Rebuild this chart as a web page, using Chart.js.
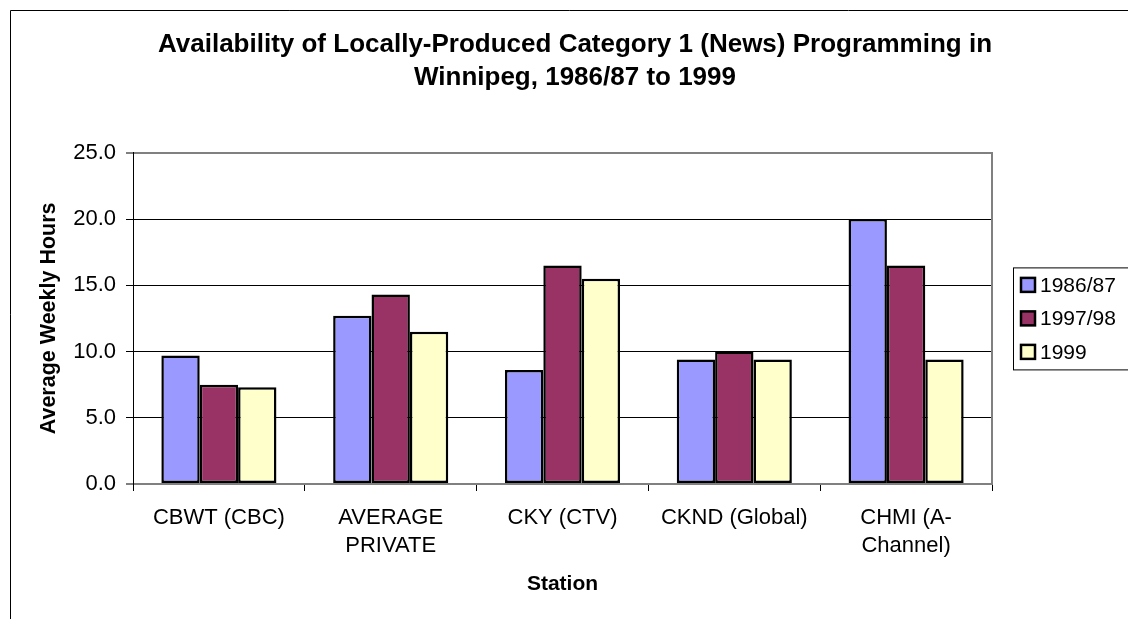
<!DOCTYPE html>
<html>
<head>
<meta charset="utf-8">
<script src="https://cdn.jsdelivr.net/npm/chart.js@4.4.1/dist/chart.umd.min.js"></script>
<style>
  body { margin: 0; background: #fff; }
  #wrap { width: 1128px; height: 619px; }
</style>
</head>
<body>
<div id="wrap"><canvas id="newsChart" width="1128" height="619"></canvas></div>
<script>
// Stations along the x axis (multi-line labels as in the original)
const stations = [
    ['CBWT (CBC)'],
    ['AVERAGE', 'PRIVATE'],
    ['CKY (CTV)'],
    ['CKND (Global)'],
    ['CHMI (A-', 'Channel)']
];

// Average weekly hours per season
const seasons = ['1986/87', '1997/98', '1999'];
const hours8687 = [9.7, 12.7, 8.6, 9.4, 20.0];
const hours9798 = [7.5, 14.3, 16.5, 10.0, 16.5];
const hours1999 = [7.3, 11.5, 15.5, 9.4, 9.4];

const seasonColors = ['#9999FF', '#993366', '#FFFFCC'];
const FONT = 'Liberation Sans, Arial, sans-serif';

// outer frame of the chart object (it runs off the right and bottom edge)
const framePlugin = {
    id: 'frame',
    beforeDraw(chart) {
        const ctx = chart.ctx;
        ctx.save();
        ctx.fillStyle = '#fff';
        ctx.fillRect(0, 0, chart.width, chart.height);
        ctx.strokeStyle = '#000';
        ctx.lineWidth = 1;
        ctx.beginPath();
        ctx.moveTo(10.5, chart.height);
        ctx.lineTo(10.5, 10.5);
        ctx.lineTo(chart.width, 10.5);
        ctx.stroke();
        ctx.restore();
    }
};

// boxed legend to the right of the plot, built from the datasets
const boxLegend = {
    id: 'boxLegend',
    afterDraw(chart) {
        const ctx = chart.ctx;
        const area = chart.chartArea;
        const sets = chart.data.datasets;
        const rowH = 33.5;
        const left = area.right + 21;
        const midY = (area.top + area.bottom) / 2;
        const top = midY - 51;
        ctx.save();
        ctx.strokeStyle = '#000';
        ctx.lineWidth = 1;
        ctx.strokeRect(left + 0.5, top + 0.5, 140, 102);
        ctx.font = '21px ' + FONT;
        ctx.textBaseline = 'middle';
        ctx.textAlign = 'left';
        sets.forEach((ds, i) => {
            const y = midY + (i - 1) * rowH;
            ctx.fillStyle = ds.backgroundColor;
            ctx.fillRect(left + 8, y - 7, 14, 14);
            ctx.lineWidth = 2.5;
            ctx.strokeRect(left + 8, y - 7, 14, 14);
            ctx.fillStyle = '#000';
            ctx.fillText(ds.label, left + 27, y + 1);
        });
        ctx.restore();
    }
};

const ctx = document.getElementById('newsChart').getContext('2d');
new Chart(ctx, {
    type: 'bar',
    data: {
        labels: stations,
        datasets: [hours8687, hours9798, hours1999].map((vals, i) => ({
            label: seasons[i],
            data: vals,
            backgroundColor: seasonColors[i],
            borderColor: '#000',
            borderWidth: 2.5,
            borderSkipped: false,
            categoryPercentage: 0.67,
            barPercentage: 1.0
        }))
    },
    options: {
        responsive: false,
        animation: false,
        layout: { padding: { top: 10, left: 22, right: 0, bottom: 0 } },
        plugins: {
            legend: { display: false },
            tooltip: { enabled: false },
            title: {
                display: true,
                text: ['Availability of Locally-Produced Category 1 (News) Programming in',
                       'Winnipeg, 1986/87 to 1999'],
                color: '#000',
                font: { family: FONT, size: 26, weight: 'bold', lineHeight: 1.246 },
                padding: { top: 19, bottom: 59 }
            }
        },
        scales: {
            x: {
                grid: {
                    offset: true,
                    drawOnChartArea: false,
                    drawTicks: true,
                    tickLength: 7,
                    color: '#000'
                },
                border: { color: '#808080', width: 2 },
                ticks: {
                    color: '#000',
                    autoSkip: false,
                    maxRotation: 0,
                    padding: 13,
                    font: { family: FONT, size: 22, lineHeight: 1.27 }
                },
                title: {
                    display: true,
                    text: 'Station',
                    color: '#000',
                    font: { family: FONT, size: 21, weight: 'bold', lineHeight: 1.2 },
                    padding: { top: 0, bottom: 22 }
                },
                afterFit(scale) { scale.height = 135; }
            },
            y: {
                min: 0,
                max: 25,
                ticks: {
                    stepSize: 5,
                    color: '#000',
                    padding: 10,
                    font: { family: FONT, size: 22 },
                    callback: v => v.toFixed(1)
                },
                grid: {
                    color: c => (c.tick && (c.tick.value === 0 || c.tick.value === 25)) ? '#808080' : '#000',
                    lineWidth: c => (c.tick && (c.tick.value === 0 || c.tick.value === 25)) ? 2 : 1,
                    tickColor: '#000',
                    tickWidth: 1,
                    tickLength: 7
                },
                border: { color: '#000', width: 1 },
                title: {
                    display: true,
                    text: 'Average Weekly Hours',
                    color: '#000',
                    font: { family: FONT, size: 21.5, weight: 'bold', lineHeight: 1.2 },
                    padding: { top: 14, bottom: 0 }
                },
                afterFit(scale) { scale.width = 111; }
            },
            // empty right-hand axis: reserves room for the legend and draws the grey right edge
            side: {
                type: 'linear',
                position: 'right',
                grid: { display: false, drawTicks: false },
                ticks: { display: false },
                border: { display: true, color: '#808080', width: 2 },
                afterFit(scale) { scale.width = 136; }
            }
        }
    },
    plugins: [framePlugin, boxLegend]
});
</script>
</body>
</html>
